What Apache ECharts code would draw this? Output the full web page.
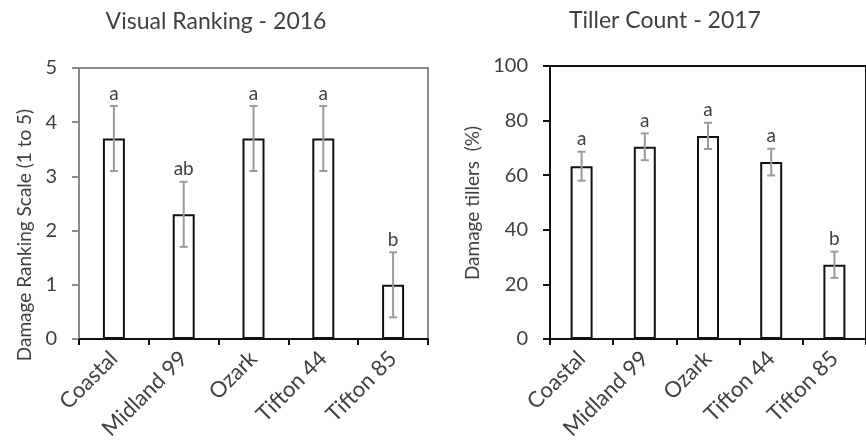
<!DOCTYPE html>
<html>
<head>
<meta charset="utf-8">
<script src="https://cdn.jsdelivr.net/npm/echarts@6/dist/echarts.min.js"></script>
<style>
  html, body { margin: 0; padding: 0; background: #fff; }
  #chart { width: 866px; height: 446px; }
</style>
</head>
<body>
<div id="chart"></div>
<script>
// Bermudagrass cultivars compared in both years
const cultivars = ['Coastal', 'Midland 99', 'Ozark', 'Tifton 44', 'Tifton 85'];

// 2016: visual damage ranking (1 to 5), mean and error
const ranking2016 = [3.7, 2.3, 3.7, 3.7, 1.0];
const rankingErr2016 = [0.6, 0.6, 0.6, 0.6, 0.6];
const rankingLetters2016 = ['a', 'ab', 'a', 'a', 'b'];
const rankingTicks = [0, 1, 2, 3, 4, 5];

// 2017: damaged tillers (%), mean and error
const tillers2017 = [63.3, 70.4, 74.4, 64.8, 27.2];
const tillersErr2017 = [5.3, 4.9, 4.8, 4.9, 4.8];
const tillersLetters2017 = ['a', 'a', 'a', 'a', 'b'];
const tillersTicks = [0, 20, 40, 60, 80, 100];

const FONT = 'Lato, "Open Sans", sans-serif';
const TEXT = '#404040';

function errorData(means, errs) {
  return means.map((m, i) => [i, m + errs[i], m - errs[i]]);
}

// Error whiskers with caps, plus the significance letter above each one
function errorRenderer(letters) {
  return function (params, api) {
    const hi = api.coord([api.value(0), api.value(1)]);
    const lo = api.coord([api.value(0), api.value(2)]);
    const hw = 4;
    const st = { stroke: '#9a9a9a', lineWidth: 2 };
    return {
      type: 'group',
      children: [
        { type: 'line', shape: { x1: hi[0], y1: hi[1], x2: lo[0], y2: lo[1] }, style: st },
        { type: 'line', shape: { x1: hi[0] - hw, y1: hi[1], x2: hi[0] + hw, y2: hi[1] }, style: st },
        { type: 'line', shape: { x1: lo[0] - hw, y1: lo[1], x2: lo[0] + hw, y2: lo[1] }, style: st },
        {
          type: 'text',
          style: {
            text: letters[params.dataIndex],
            x: hi[0], y: hi[1] - 3,
            align: 'center', verticalAlign: 'bottom',
            font: '19px ' + FONT, fill: TEXT
          }
        }
      ]
    };
  };
}

function xAxisFor(gridIndex) {
  return {
    type: 'category', gridIndex, data: cultivars,
    axisLine: { lineStyle: { color: '#111', width: 2 } },
    axisTick: { show: true, length: 6, lineStyle: { color: '#111', width: 2 } },
    axisLabel: { rotate: 45, margin: 16, fontSize: 22, color: TEXT, fontFamily: FONT, interval: 0 }
  };
}

function yAxisFor(gridIndex, ticks, color) {
  return {
    type: 'value', gridIndex,
    min: ticks[0], max: ticks[ticks.length - 1], interval: ticks[1] - ticks[0],
    splitLine: { show: false },
    axisLine: { show: true, lineStyle: { color, width: 2 } },
    axisTick: { show: true, length: 7, lineStyle: { color, width: 2 } },
    axisLabel: { margin: 22, fontSize: 20, color: TEXT, fontFamily: FONT }
  };
}

const barStyle = { color: '#fff', borderColor: '#111', borderWidth: 2 };

const chart = echarts.init(document.getElementById('chart'), null, { renderer: 'canvas' });
chart.setOption({
  backgroundColor: '#fff',
  animation: false,
  textStyle: { fontFamily: FONT, color: TEXT },
  grid: [
    { left: 79, top: 68, width: 349, height: 271, show: true, borderColor: '#8a8a8a', borderWidth: 2, backgroundColor: 'transparent' },
    { left: 550, top: 66, width: 328, height: 273, show: true, borderColor: '#111', borderWidth: 2, backgroundColor: 'transparent' }
  ],
  xAxis: [xAxisFor(0), xAxisFor(1)],
  yAxis: [yAxisFor(0, rankingTicks, '#8a8a8a'), yAxisFor(1, tillersTicks, '#111')],
  graphic: [
    { type: 'text', style: { text: 'Visual Ranking - 2016', x: 216, y: 22, align: 'center', verticalAlign: 'middle', font: '23px ' + FONT, fill: TEXT } },
    { type: 'text', style: { text: 'Tiller Count - 2017', x: 665, y: 21, align: 'center', verticalAlign: 'middle', font: '23px ' + FONT, fill: TEXT } },
    { type: 'text', rotation: Math.PI / 2, x: 25, y: 235, style: { text: 'Damage Ranking Scale (1 to 5)', x: 0, y: 0, align: 'center', verticalAlign: 'middle', font: '19px ' + FONT, fill: TEXT } },
    { type: 'text', rotation: Math.PI / 2, x: 473, y: 203, style: { text: 'Damage tillers  (%)', x: 0, y: 0, align: 'center', verticalAlign: 'middle', font: '19px ' + FONT, fill: TEXT } }
  ],
  series: [
    { type: 'bar', xAxisIndex: 0, yAxisIndex: 0, data: ranking2016, barWidth: 22, itemStyle: barStyle },
    { type: 'custom', xAxisIndex: 0, yAxisIndex: 0, data: errorData(ranking2016, rankingErr2016), renderItem: errorRenderer(rankingLetters2016), z: 5 },
    { type: 'bar', xAxisIndex: 1, yAxisIndex: 1, data: tillers2017, barWidth: 22, itemStyle: barStyle },
    { type: 'custom', xAxisIndex: 1, yAxisIndex: 1, data: errorData(tillers2017, tillersErr2017), renderItem: errorRenderer(tillersLetters2017), z: 5 }
  ]
});
</script>
</body>
</html>
